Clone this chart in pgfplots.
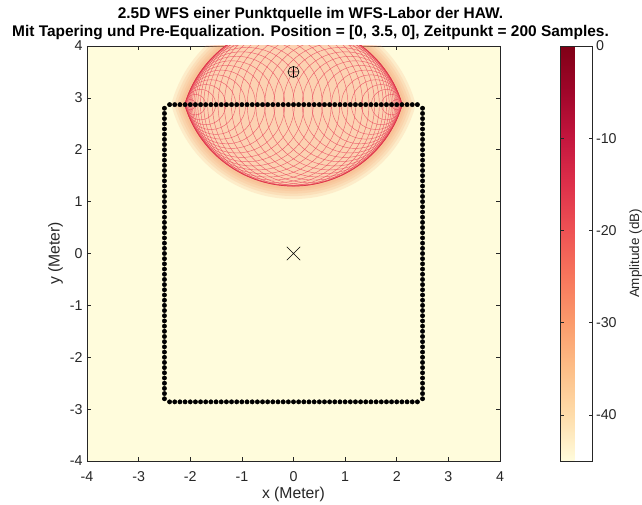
\documentclass[border=0pt]{standalone}
\usepackage{fontspec}
\setmainfont{Liberation Sans}
\usepackage{pgfplots}
\pgfplotsset{compat=1.18}
\usetikzlibrary{plotmarks}

\definecolor{bgyellow}{RGB}{255,252,220}
\definecolor{fieldfill}{RGB}{252,210,178}
\definecolor{halo}{RGB}{247,160,112}
\definecolor{wave}{RGB}{232,72,92}
\definecolor{rim}{RGB}{222,52,72}
\definecolor{axgray}{RGB}{38,38,38}

\begin{document}
\begin{tikzpicture}
\begin{axis}[
  name=main,
  scale only axis, width=413bp, height=415bp,
  xmin=-4, xmax=4, ymin=-4, ymax=4,
  xtick={-4,-3,...,4}, ytick={-4,-3,...,4},
  tick align=inside, tick pos=both,
  major tick length=4bp,
  axis line style={axgray, line width=0.5bp},
  tick style={axgray, line width=0.5bp},
  axis background/.style={fill=bgyellow},
  /pgf/number format/assume math mode=true,
  ticklabel style={font=\fontsize{14.3}{16}\selectfont, text=axgray},
  xticklabel style={yshift=-7bp},
  yticklabel style={xshift=-1bp},
  label style={font=\fontsize{15.8}{18}\selectfont, text=axgray},
  xlabel={x (Meter)}, ylabel={y (Meter)},
  xlabel style={yshift=1bp},
  title={2.5D WFS einer Punktquelle im WFS-Labor der HAW.\\Mit Tapering und Pre-Equalization. Position = [0, 3.5, 0], Zeitpunkt = 200 Samples.},
  title style={font=\bfseries\fontsize{15.5}{18}\selectfont, align=center, xshift=17bp, yshift=-3bp},
  colormap={wfsdb}{rgb255=(255,252,220) rgb255=(254,220,170) rgb255=(253,190,135) rgb255=(251,155,108) rgb255=(247,118,92) rgb255=(238,82,84) rgb255=(222,48,74) rgb255=(196,22,62) rgb255=(160,6,42) rgb255=(128,0,22)},
  colorbar,
  point meta min=-45, point meta max=0,
  colorbar style={
    at={(parent axis.north east)}, anchor=north west, xshift=52bp,
    width=32bp,
    ytick={-40,-30,-20,-10,0},
    ytick pos=both, yticklabel pos=right,
    tick align=inside, major tick length=4bp,
    axis line style={axgray, line width=0.5bp},
    tick style={axgray, line width=0.5bp},
    ticklabel style={font=\fontsize{14.3}{16}\selectfont, text=axgray},
    /pgf/number format/assume math mode=true,
    ylabel={Amplitude (dB)}, ylabel near ticks,
    ylabel style={font=\fontsize{13.5}{15}\selectfont, text=axgray, yshift=-6bp},
  },
]

% soft glow around the wavefront envelope
\pgfplotsinvokeforeach{26,20,15,10,6}{
  \draw[halo, line width=#1bp, opacity=0.17, line join=round]
    (axis cs:-2.108,2.87)
    arc[start angle=196.64, end angle=343.36, x radius=113.575bp, y radius=114.125bp]
    arc[start angle=16.64, end angle=163.36, x radius=113.575bp, y radius=114.125bp] -- cycle;
}
% envelope of the superposed wavefronts
\fill[fieldfill]
    (axis cs:-2.108,2.87)
    arc[start angle=196.64, end angle=343.36, x radius=113.575bp, y radius=114.125bp]
    arc[start angle=16.64, end angle=163.36, x radius=113.575bp, y radius=114.125bp] -- cycle;

% elementary wavefronts of the active (top) loudspeakers
\pgfplotsinvokeforeach{-2.0,-1.9,...,2.0}{
  \draw[wave, line width=0.45bp, opacity=0.8]
    (axis cs:#1,2.87) ellipse[
      x radius={(2.2-sqrt((#1)*(#1)+0.3969))*51.819pt},
      y radius={(2.2-sqrt((#1)*(#1)+0.3969))*52.070pt}];
}
\draw[rim, line width=0.7bp]
    (axis cs:-2.108,2.87)
    arc[start angle=196.64, end angle=343.36, x radius=113.575bp, y radius=114.125bp]
    arc[start angle=16.64, end angle=163.36, x radius=113.575bp, y radius=114.125bp] -- cycle;

% loudspeaker array: top row, right column, bottom row, left column
\addplot[only marks, mark=*, mark size=2.2bp, black] coordinates {
(-2.4,2.87) (-2.3,2.87) (-2.2,2.87) (-2.1,2.87) (-2.0,2.87) (-1.9,2.87) (-1.8,2.87)
(-1.7,2.87) (-1.6,2.87) (-1.5,2.87) (-1.4,2.87) (-1.3,2.87) (-1.2,2.87) (-1.1,2.87)
(-1.0,2.87) (-0.9,2.87) (-0.8,2.87) (-0.7,2.87) (-0.6,2.87) (-0.5,2.87) (-0.4,2.87)
(-0.3,2.87) (-0.2,2.87) (-0.1,2.87) (0.0,2.87) (0.1,2.87) (0.2,2.87) (0.3,2.87)
(0.4,2.87) (0.5,2.87) (0.6,2.87) (0.7,2.87) (0.8,2.87) (0.9,2.87) (1.0,2.87)
(1.1,2.87) (1.2,2.87) (1.3,2.87) (1.4,2.87) (1.5,2.87) (1.6,2.87) (1.7,2.87)
(1.8,2.87) (1.9,2.87) (2.0,2.87) (2.1,2.87) (2.2,2.87) (2.3,2.87) (2.4,2.87)
};
\addplot[only marks, mark=*, mark size=2.2bp, black] coordinates {
(2.5,2.8) (2.5,2.7) (2.5,2.6) (2.5,2.5) (2.5,2.4) (2.5,2.3) (2.5,2.2) (2.5,2.1)
(2.5,2.0) (2.5,1.9) (2.5,1.8) (2.5,1.7) (2.5,1.6) (2.5,1.5) (2.5,1.4) (2.5,1.3)
(2.5,1.2) (2.5,1.1) (2.5,1.0) (2.5,0.9) (2.5,0.8) (2.5,0.7) (2.5,0.6) (2.5,0.5)
(2.5,0.4) (2.5,0.3) (2.5,0.2) (2.5,0.1) (2.5,0.0) (2.5,-0.1) (2.5,-0.2) (2.5,-0.3)
(2.5,-0.4) (2.5,-0.5) (2.5,-0.6) (2.5,-0.7) (2.5,-0.8) (2.5,-0.9) (2.5,-1.0) (2.5,-1.1)
(2.5,-1.2) (2.5,-1.3) (2.5,-1.4) (2.5,-1.5) (2.5,-1.6) (2.5,-1.7) (2.5,-1.8) (2.5,-1.9)
(2.5,-2.0) (2.5,-2.1) (2.5,-2.2) (2.5,-2.3) (2.5,-2.4) (2.5,-2.5) (2.5,-2.6) (2.5,-2.7)
(2.5,-2.8)
};
\addplot[only marks, mark=*, mark size=2.2bp, black] coordinates {
(-2.4,-2.86) (-2.3,-2.86) (-2.2,-2.86) (-2.1,-2.86) (-2.0,-2.86) (-1.9,-2.86) (-1.8,-2.86)
(-1.7,-2.86) (-1.6,-2.86) (-1.5,-2.86) (-1.4,-2.86) (-1.3,-2.86) (-1.2,-2.86) (-1.1,-2.86)
(-1.0,-2.86) (-0.9,-2.86) (-0.8,-2.86) (-0.7,-2.86) (-0.6,-2.86) (-0.5,-2.86) (-0.4,-2.86)
(-0.3,-2.86) (-0.2,-2.86) (-0.1,-2.86) (0.0,-2.86) (0.1,-2.86) (0.2,-2.86) (0.3,-2.86)
(0.4,-2.86) (0.5,-2.86) (0.6,-2.86) (0.7,-2.86) (0.8,-2.86) (0.9,-2.86) (1.0,-2.86)
(1.1,-2.86) (1.2,-2.86) (1.3,-2.86) (1.4,-2.86) (1.5,-2.86) (1.6,-2.86) (1.7,-2.86)
(1.8,-2.86) (1.9,-2.86) (2.0,-2.86) (2.1,-2.86) (2.2,-2.86) (2.3,-2.86) (2.4,-2.86)
};
\addplot[only marks, mark=*, mark size=2.2bp, black] coordinates {
(-2.5,2.8) (-2.5,2.7) (-2.5,2.6) (-2.5,2.5) (-2.5,2.4) (-2.5,2.3) (-2.5,2.2) (-2.5,2.1)
(-2.5,2.0) (-2.5,1.9) (-2.5,1.8) (-2.5,1.7) (-2.5,1.6) (-2.5,1.5) (-2.5,1.4) (-2.5,1.3)
(-2.5,1.2) (-2.5,1.1) (-2.5,1.0) (-2.5,0.9) (-2.5,0.8) (-2.5,0.7) (-2.5,0.6) (-2.5,0.5)
(-2.5,0.4) (-2.5,0.3) (-2.5,0.2) (-2.5,0.1) (-2.5,0.0) (-2.5,-0.1) (-2.5,-0.2) (-2.5,-0.3)
(-2.5,-0.4) (-2.5,-0.5) (-2.5,-0.6) (-2.5,-0.7) (-2.5,-0.8) (-2.5,-0.9) (-2.5,-1.0) (-2.5,-1.1)
(-2.5,-1.2) (-2.5,-1.3) (-2.5,-1.4) (-2.5,-1.5) (-2.5,-1.6) (-2.5,-1.7) (-2.5,-1.8) (-2.5,-1.9)
(-2.5,-2.0) (-2.5,-2.1) (-2.5,-2.2) (-2.5,-2.3) (-2.5,-2.4) (-2.5,-2.5) (-2.5,-2.6) (-2.5,-2.7)
(-2.5,-2.8)
};

% virtual point source and reference point
\addplot[only marks, mark=oplus, mark size=5.5bp, black, line width=0.6bp] coordinates {(0,3.5)};
\addplot[only marks, mark=x, mark size=9.4bp, black, line width=0.6bp] coordinates {(0,0)};
\end{axis}
\pgfresetboundingbox
\path (main.south west) ++(-87bp,-44bp) rectangle ++(642bp,505bp);
\end{tikzpicture}
\end{document}
